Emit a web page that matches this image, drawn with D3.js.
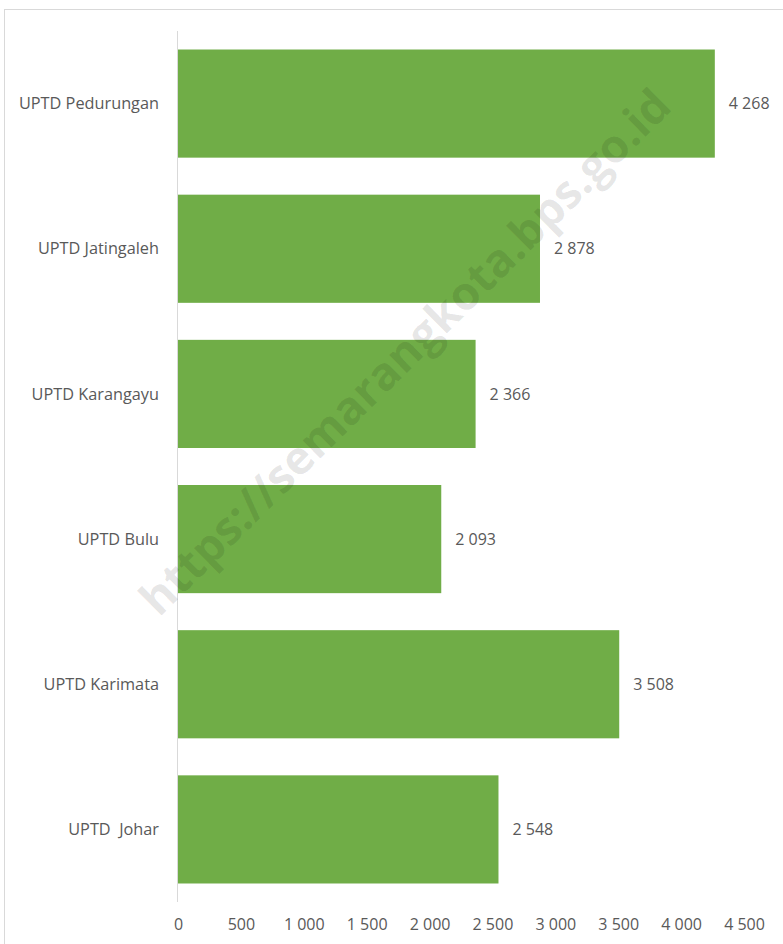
<!DOCTYPE html>
<html>
<head>
<meta charset="utf-8">
<script src="https://cdn.jsdelivr.net/npm/d3@7"></script>
<style>
    body { margin: 0; background: #fff; }
    text { font-family: "Open Sans", sans-serif; }
</style>
</head>
<body>
<div id="chart"></div>
<script>
// data
const categories = ["UPTD Pedurungan", "UPTD Jatingaleh", "UPTD Karangayu", "UPTD Bulu", "UPTD Karimata", "UPTD  Johar"];
const values = [4268, 2878, 2366, 2093, 3508, 2548];
const tickValues = [0, 500, 1000, 1500, 2000, 2500, 3000, 3500, 4000, 4500];
const watermark = "https://semarangkota.bps.go.id";

const width = 783, height = 944;
const margin = {top: 31, left: 178, right: 39, bottom: 42};

const svg = d3.select("#chart").append("svg")
    .attr("width", width)
    .attr("height", height);

// chart border (runs off the right and bottom edge)
svg.append("rect")
    .attr("x", 4.5).attr("y", 9.5)
    .attr("width", 900).attr("height", 1000)
    .attr("fill", "none")
    .attr("stroke", "#d9d9d9");

const x = d3.scaleLinear()
    .domain([0, 4500])
    .range([margin.left, width - margin.right]);

const y = d3.scaleBand()
    .domain(categories)
    .range([margin.top, height - margin.bottom])
    .paddingInner(0.255)
    .paddingOuter(0.1275);

const fmtSp = d => d3.format(",")(d).replace(/,/g, " ");

// bars
svg.append("g")
    .selectAll("rect")
    .data(values)
    .enter().append("rect")
    .attr("x", x(0))
    .attr("y", (d, i) => y(categories[i]))
    .attr("width", d => x(d) - x(0))
    .attr("height", y.bandwidth())
    .attr("fill", "#70ad47");

// vertical axis line
svg.append("line")
    .attr("x1", x(0) - 0.5).attr("x2", x(0) - 0.5)
    .attr("y1", margin.top).attr("y2", height - margin.bottom)
    .attr("stroke", "#d9d9d9");

// category labels
svg.append("g")
    .selectAll("text")
    .data(categories)
    .enter().append("text")
    .attr("x", x(0) - 19)
    .attr("y", d => y(d) + y.bandwidth() / 2)
    .attr("dy", "0.35em")
    .attr("text-anchor", "end")
    .attr("font-size", 16.3)
    .attr("fill", "#595959")
    .style("white-space", "pre")
    .text(d => d);

// value labels
svg.append("g")
    .selectAll("text")
    .data(values)
    .enter().append("text")
    .attr("x", d => x(d) + 14)
    .attr("y", (d, i) => y(categories[i]) + y.bandwidth() / 2)
    .attr("dy", "0.35em")
    .attr("font-size", 16)
    .attr("fill", "#595959")
    .style("white-space", "pre")
    .text(d => fmtSp(d));

// x axis tick labels
const xAxis = d3.axisBottom(x)
    .tickValues(tickValues)
    .tickSize(0)
    .tickPadding(0)
    .tickFormat(fmtSp);

const gx = svg.append("g")
    .attr("transform", `translate(0, ${height - margin.bottom + 17})`)
    .call(xAxis);
gx.select(".domain").remove();
gx.selectAll("text")
    .attr("font-family", "Open Sans, sans-serif")
    .attr("font-size", 16)
    .attr("fill", "#595959")
    .style("white-space", "pre");

// watermark
svg.append("text")
    .attr("transform", "translate(405, 352) rotate(-44.7)")
    .attr("text-anchor", "middle")
    .attr("dy", "0.35em")
    .attr("font-family", "Liberation Sans, Arial, sans-serif")
    .attr("font-weight", "bold")
    .attr("font-size", 46)
    .attr("fill", "rgba(0,0,0,0.1)")
    .text(watermark);
</script>
</body>
</html>
